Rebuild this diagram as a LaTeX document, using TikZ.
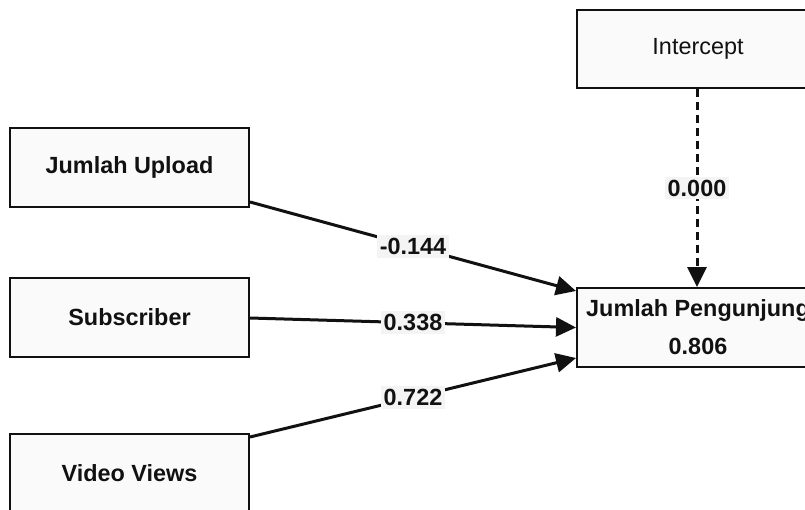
\documentclass[tikz,border=0pt]{standalone}
\usepackage{fontspec}
\setmainfont{Liberation Sans}
\usetikzlibrary{arrows.meta}
\definecolor{boxfill}{HTML}{FAFAFA}
\definecolor{labfill}{HTML}{F4F4F4}
\definecolor{ink}{HTML}{111111}
\begin{document}
\begin{tikzpicture}[x=1pt,y=-1pt,
  box/.style={draw=ink, line width=2pt, fill=boxfill, minimum width=239pt, minimum height=79pt,
    inner sep=0pt, text=ink, font=\fontsize{23.4}{38}\selectfont\bfseries},
  link/.style={draw=ink, line width=3pt, -{Triangle[length=20pt,width=19pt]}},
  lab/.style={fill=labfill, text=ink, inner sep=3pt, font=\fontsize{23.4}{28}\selectfont\bfseries}]
\clip (0,0) rectangle (805,509);
\fill[white] (0,0) rectangle (805,509);
\node[box] (ju) at (129.5,167.5) {Jumlah Upload};
\node[box] (sub) at (129.5,317.5) {Subscriber};
\node[box] (vv) at (129.5,473.5) {Video Views};
\node[box, minimum width=242pt, minimum height=78pt, font=\fontsize{23.4}{28}\selectfont] (ic) at (698,49) {Intercept};
\node[box, minimum width=242pt, align=center] (jp) at (698,327.5) {Jumlah Pengunjung\\0.806};
\draw[link] ([yshift=6pt]ju.south east) -- node[lab] {-0.144} ([yshift=-4pt]jp.north west);
\draw[link] ([yshift=-0.5pt]sub.east) -- node[lab] {0.338} (jp.west);
\draw[link] ([yshift=-4pt]vv.north east) -- node[lab] {0.722} ([yshift=10pt]jp.south west);
\draw[link, dash pattern=on 8pt off 5pt] ([xshift=-1pt]ic.south) -- node[lab] {0.000} ([xshift=-1pt]jp.north);
\end{tikzpicture}
\end{document}
